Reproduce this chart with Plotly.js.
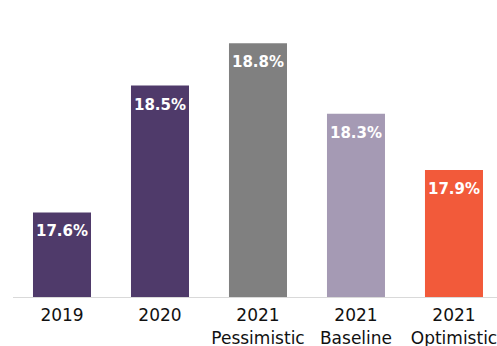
<!DOCTYPE html>
<html><head><meta charset="utf-8">
<script src="https://cdn.plot.ly/plotly-3.0.1.min.js"></script>
<style>html,body{margin:0;padding:0;background:#fff;overflow:hidden}</style>
</head><body>
<div id="chart" style="width:497px;height:346px"></div>
<script>
const categories = ["2019", "2020", "2021<br>Pessimistic", "2021<br>Baseline", "2021<br>Optimistic"];
const values = [17.6, 18.5, 18.8, 18.3, 17.9];
const colors = ["#4f3a6a", "#4f3a6a", "#808080", "#a59ab4", "#f25a3a"];

const trace = {
  type: "bar",
  x: categories.map((c, i) => i),
  y: values,
  marker: {color: colors},
  hoverinfo: "skip"
};
const annotations = values.map((v, i) => ({
  x: i, y: v, xref: "x", yref: "y",
  text: "<b>" + v.toFixed(1) + "%</b>",
  showarrow: false, yanchor: "top", yshift: -8,
  font: {family: "DejaVu Sans", size: 15, color: "#ffffff"}
}));
const layout = {
  width: 497, height: 346,
  margin: {l: 13, r: 0, t: 15, b: 49},
  paper_bgcolor: "#fff", plot_bgcolor: "#fff",
  bargap: 0.408,
  showlegend: false,
  font: {family: "DejaVu Sans", size: 17, color: "#111"},
  xaxis: {
    range: [-0.5, 4.439],
    tickmode: "array", tickvals: categories.map((c, i) => i), ticktext: categories,
    ticklabelstandoff: 3,
    ticklabeloverflow: "allow",
    showline: true, linecolor: "#d9d9d9", linewidth: 1,
    showgrid: false, zeroline: false, ticks: "", fixedrange: true
  },
  yaxis: {
    range: [17, 19], visible: false, showgrid: false, zeroline: false, fixedrange: true
  },
  annotations: annotations
};
Plotly.newPlot("chart", [trace], layout, {displayModeBar: false, staticPlot: true});
</script>
</body></html>
